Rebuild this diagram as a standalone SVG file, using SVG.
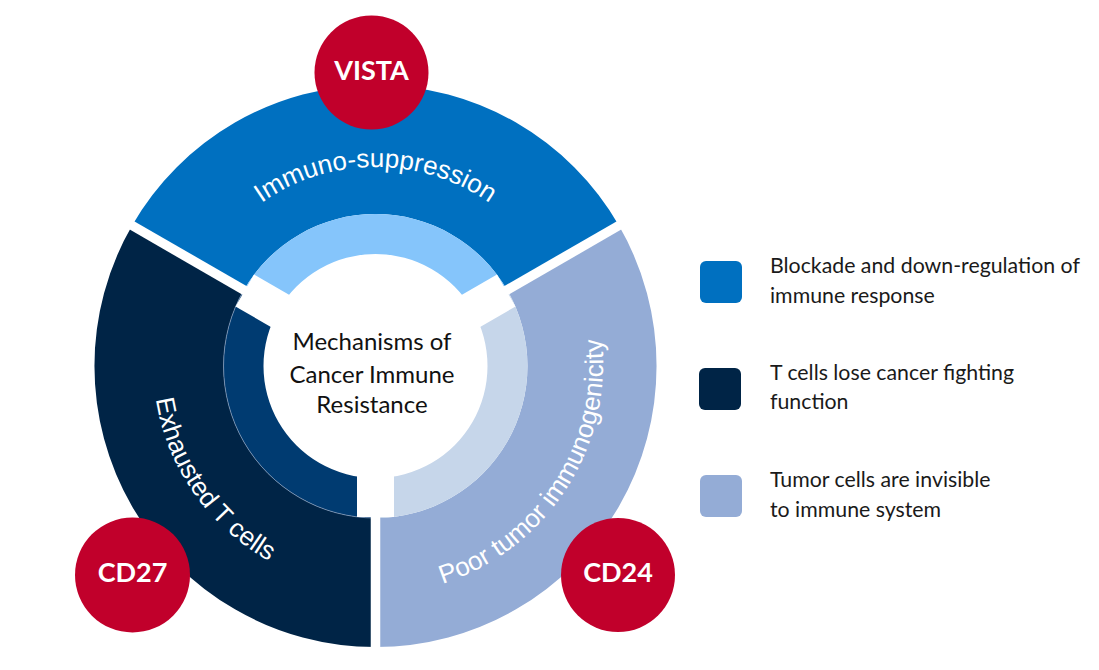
<svg xmlns="http://www.w3.org/2000/svg" width="1099" height="670" viewBox="0 0 1099 670">
  <style>
    .arc-label { font-family: "Liberation Sans", Arial, sans-serif; font-size: 26px; fill: #ffffff; }
    .badge-text { font-family: Lato, "Open Sans", sans-serif; font-weight: 700; font-size: 27px; fill: #ffffff; text-anchor: middle; }
    .badge { fill: #c1002b; }
    .center-text { font-family: Lato, "Open Sans", sans-serif; font-size: 24px; fill: #111111; text-anchor: middle; }
    .legend-text { font-family: Lato, "Open Sans", sans-serif; font-size: 21.3px; fill: #1a1a1a; }
    .gap { fill: #ffffff; }
  </style>
  <defs>
    <path id="p-top" d="M 176.5 366 A 199 199 0 0 1 574.5 366"/>
    <path id="p-left" d="M 245.9 180.9 A 226 226 0 0 0 505.1 551.1"/>
    <path id="p-right" d="M 249.7 559.7 A 231 231 0 0 0 501.3 172.3"/>
  </defs>
  <rect width="1099" height="670" fill="#ffffff"/>

  <g id="ring">
    <g id="seg-immuno">
      <path d="M 132.1 225.5 A 281 281 0 0 1 618.9 225.5 L 507.1 290 A 152 152 0 0 0 243.9 290 Z" fill="#0070c0"/>
      <path d="M 243.9 290 A 152 152 0 0 1 507.1 290 L 472.5 310 A 112 112 0 0 0 278.5 310 Z" fill="#85c5fb"/>
    </g>
    <g id="seg-exhausted">
      <path d="M 375.5 647 A 281 281 0 0 1 132.1 225.5 L 243.9 290 A 152 152 0 0 0 375.5 518 Z" fill="#002446"/>
      <path d="M 375.5 518 A 152 152 0 0 1 243.9 290 L 278.5 310 A 112 112 0 0 0 375.5 478 Z" fill="#003b71"/>
      <path d="M 375.5 518 A 152 152 0 0 1 243.9 290" fill="none" stroke="#8da2c0" stroke-width="0.7"/>
    </g>
    <g id="seg-poor">
      <path d="M 618.9 225.5 A 281 281 0 0 1 375.5 647 L 375.5 518 A 152 152 0 0 0 507.1 290 Z" fill="#94acd6"/>
      <path d="M 507.1 290 A 152 152 0 0 1 375.5 518 L 375.5 478 A 112 112 0 0 0 472.5 310 Z" fill="#c6d6ea"/>
    </g>
    <g id="gaps">
      <rect class="gap" x="370.75" y="366" width="9.5" height="292"/>
      <rect class="gap" x="370.75" y="366" width="9.5" height="292" transform="rotate(120 375.5 366)"/>
      <rect class="gap" x="370.75" y="366" width="9.5" height="292" transform="rotate(240 375.5 366)"/>
      <rect class="gap" x="357" y="366" width="37" height="151"/>
      <rect class="gap" x="357" y="366" width="37" height="151" transform="rotate(120 375.5 366)"/>
      <rect class="gap" x="357" y="366" width="37" height="151" transform="rotate(240 375.5 366)"/>
    </g>
    <g id="arc-labels">
      <text class="arc-label"><textPath href="#p-top" startOffset="50%" text-anchor="middle">Immuno-suppression</textPath></text>
      <text class="arc-label"><textPath href="#p-left" startOffset="50%" text-anchor="middle">Exhausted T cells</textPath></text>
      <text class="arc-label"><textPath href="#p-right" startOffset="50%" text-anchor="middle">Poor tumor immunogenicity</textPath></text>
    </g>
  </g>

  <g id="center-label">
    <text class="center-text" x="372" y="350">Mechanisms of</text>
    <text class="center-text" x="372" y="383">Cancer Immune</text>
    <text class="center-text" x="372" y="413">Resistance</text>
  </g>

  <g id="badge-vista">
    <circle class="badge" cx="371.5" cy="72.5" r="57"/>
    <text class="badge-text" x="371.5" y="79.5">VISTA</text>
  </g>
  <g id="badge-cd27">
    <circle class="badge" cx="132.5" cy="575" r="57.5"/>
    <text class="badge-text" x="132.5" y="581.5">CD27</text>
  </g>
  <g id="badge-cd24">
    <circle class="badge" cx="618" cy="575" r="57"/>
    <text class="badge-text" x="618" y="581.5">CD24</text>
  </g>

  <g id="connectors"/>

  <g id="legend-1">
    <rect x="700" y="261" width="42" height="42" rx="6" fill="#0070c0"/>
    <text class="legend-text" x="770" y="273">Blockade and down-regulation of</text>
    <text class="legend-text" x="770" y="303">immune response</text>
  </g>
  <g id="legend-2">
    <rect x="699" y="368" width="42" height="42" rx="6" fill="#002446"/>
    <text class="legend-text" x="770" y="380">T cells lose cancer fighting</text>
    <text class="legend-text" x="770" y="409">function</text>
  </g>
  <g id="legend-3">
    <rect x="700" y="475" width="42" height="42" rx="6" fill="#94acd6"/>
    <text class="legend-text" x="770" y="487">Tumor cells are invisible</text>
    <text class="legend-text" x="770" y="517">to immune system</text>
  </g>
</svg>
